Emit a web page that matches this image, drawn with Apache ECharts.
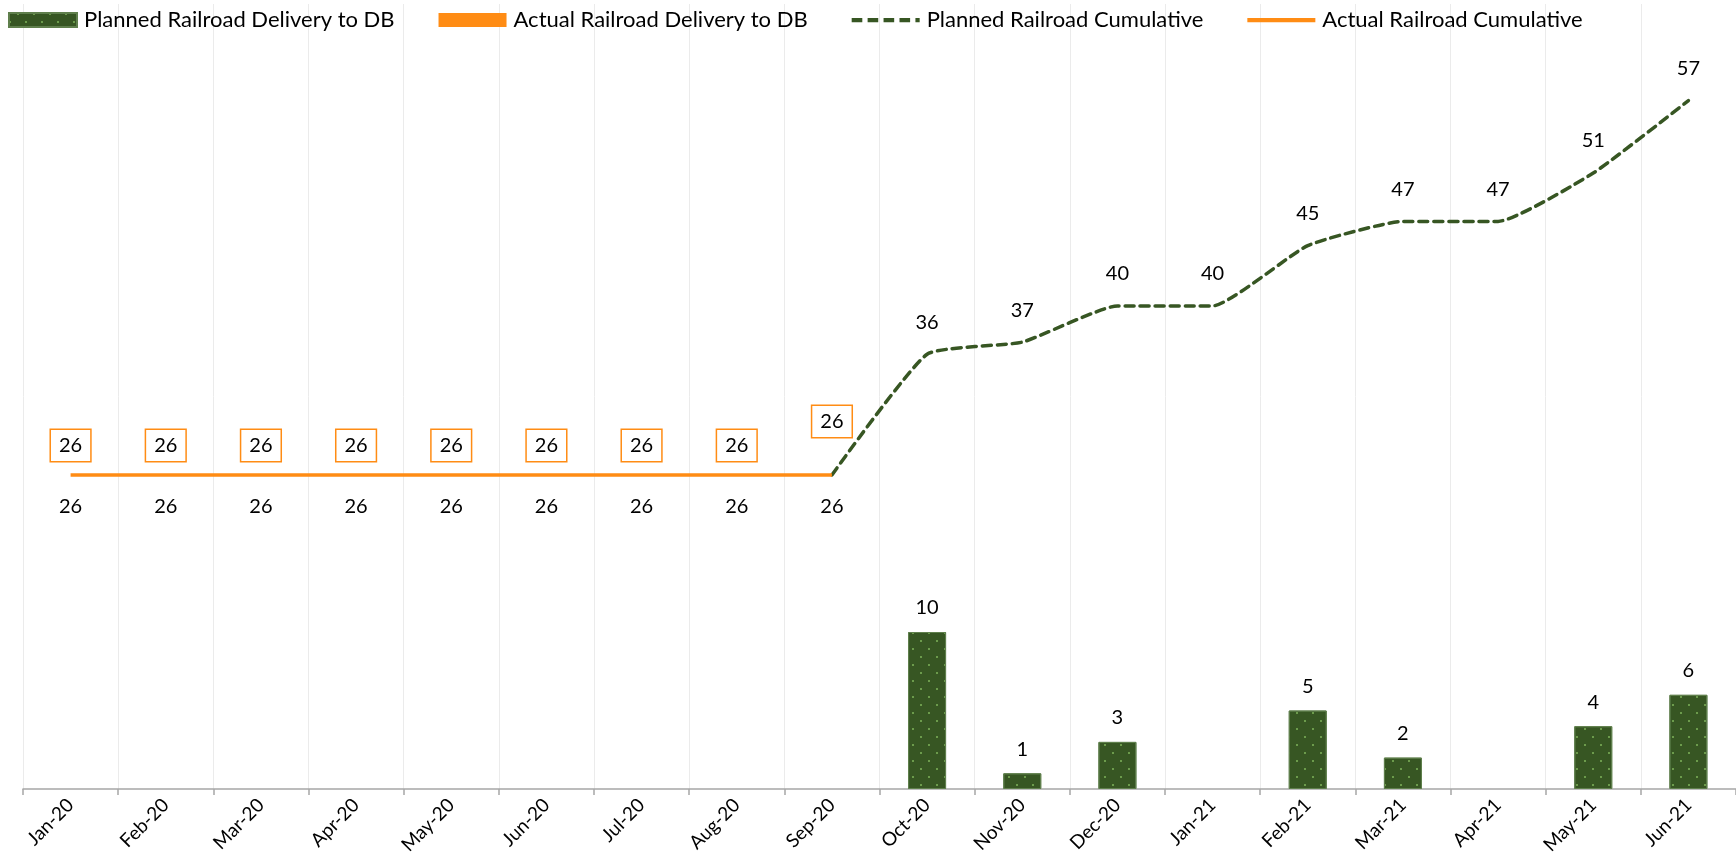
<!DOCTYPE html>
<html>
<head>
<meta charset="utf-8">
<script src="https://cdn.jsdelivr.net/npm/echarts@6/dist/echarts.min.js"></script>
<style>
  html, body { margin: 0; padding: 0; background: #fff; }
  #chart { width: 1736px; height: 865px; }
</style>
</head>
<body>
<div id="chart"></div>
<script>
// ---- data ----
const categories = ['Jan-20','Feb-20','Mar-20','Apr-20','May-20','Jun-20','Jul-20','Aug-20','Sep-20',
  'Oct-20','Nov-20','Dec-20','Jan-21','Feb-21','Mar-21','Apr-21','May-21','Jun-21'];
const plannedDelivery = [null,null,null,null,null,null,null,null,null,10,1,3,null,5,2,null,4,6];
const actualDelivery  = [null,null,null,null,null,null,null,null,null,null,null,null,null,null,null,null,null,null];
const plannedCumulative = [26,26,26,26,26,26,26,26,26,36,37,40,40,45,47,47,51,57];
const actualCumulative  = [26,26,26,26,26,26,26,26,26,null,null,null,null,null,null,null,null,null];
const seriesNames = ['Planned Railroad Delivery to DB','Actual Railroad Delivery to DB','Planned Railroad Cumulative','Actual Railroad Cumulative'];

// ---- styling ----
const GREEN = '#375623';
const ORANGE = '#FF8C14';
const FONT = 'Lato';
const firstPlannedLineIdx = 8; // planned cumulative line drawn from Sep-20

const chart = echarts.init(document.getElementById('chart'), null, { renderer: 'canvas' });

const barDecal = {
  symbol: 'rect',
  symbolSize: 1,
  color: '#6c9b4c',
  dashArrayX: [[2, 14], [0, 8, 2, 6]],
  dashArrayY: [2, 6],
  rotation: 0
};

const labelBase = { color: '#000', fontFamily: FONT, fontSize: 20 };

const option = {
  animation: false,
  backgroundColor: '#fff',
  textStyle: { fontFamily: FONT },
  legend: {
    left: 8,
    top: 9,
    padding: 0,
    itemWidth: 68,
    itemHeight: 14,
    itemGap: 44,
    textStyle: { fontFamily: FONT, fontSize: 22, color: '#000', padding: [0, 0, 0, 2] },
    data: [
      { name: seriesNames[0], icon: 'rect' },
      { name: seriesNames[1], icon: 'rect' },
      { name: seriesNames[2], icon: 'path://M0,0h10v4h-10z M15,0h10v4h-10z M30,0h10v4h-10z M45,0h10v4h-10z M60,0h4v4h-4z' },
      { name: seriesNames[3], icon: 'path://M0,0h64v4h-64z' }
    ]
  },
  grid: { left: 23, right: 0, top: 4, bottom: 76, containLabel: false },
  xAxis: {
    type: 'category',
    data: categories,
    boundaryGap: true,
    axisLine: { show: true, lineStyle: { color: '#a6a6a6', width: 1.5 } },
    axisTick: { show: true, length: 6, alignWithLabel: false, lineStyle: { color: '#a6a6a6', width: 1.5 } },
    axisLabel: { rotate: 45, fontFamily: FONT, fontSize: 19, color: '#000', margin: 13, interval: 0 },
    splitLine: { show: true, lineStyle: { color: '#ebebeb', width: 1 } }
  },
  yAxis: [
    { type: 'value', min: 0, max: 50, show: false, splitLine: { show: false } },
    { type: 'value', min: 0, max: 65, show: false, splitLine: { show: false } }
  ],
  series: [
    {
      name: seriesNames[0],
      type: 'bar',
      yAxisIndex: 0,
      data: plannedDelivery,
      barWidth: 38,
      barGap: '-100%',
      itemStyle: { color: GREEN, borderColor: '#5f7f4c', borderWidth: 1, decal: barDecal },
      label: Object.assign({ show: true, position: 'top', distance: 14 }, labelBase),
      z: 2
    },
    {
      name: seriesNames[1],
      type: 'bar',
      yAxisIndex: 0,
      data: actualDelivery,
      barWidth: 38,
      barGap: '-100%',
      itemStyle: { color: ORANGE },
      z: 2
    },
    {
      name: seriesNames[2],
      type: 'line',
      yAxisIndex: 1,
      data: plannedCumulative.map((v, i) => {
        if (i < firstPlannedLineIdx) return null;
        if (i === firstPlannedLineIdx) return { value: v, label: { show: false } };
        return v;
      }),
      smooth: 0.15,
      symbol: 'circle',
      symbolSize: 0.1,
      itemStyle: { color: GREEN },
      lineStyle: { color: GREEN, width: 3.5, type: [9, 6], cap: 'round' },
      label: Object.assign({ show: true, position: 'top', distance: 22 }, labelBase),
      z: 3
    },
    {
      name: seriesNames[3],
      type: 'line',
      yAxisIndex: 1,
      data: actualCumulative.map((v, i) => i === firstPlannedLineIdx ? { value: v, label: { distance: 38 } } : v),
      symbol: 'circle',
      symbolSize: 0.1,
      itemStyle: { color: ORANGE },
      lineStyle: { color: ORANGE, width: 3.5 },
      label: Object.assign({
        show: true, position: 'top', distance: 14,
        borderColor: ORANGE, borderWidth: 1.5, padding: [6, 8, 5, 8], backgroundColor: '#fff'
      }, labelBase),
      z: 4
    },
    {
      // labels of the planned cumulative values below the flat section
      name: 'plannedCumLabels',
      type: 'line',
      yAxisIndex: 1,
      data: plannedCumulative.map((v, i) => i <= firstPlannedLineIdx ? v : null),
      symbol: 'circle',
      symbolSize: 0.1,
      itemStyle: { color: 'rgba(0,0,0,0)' },
      lineStyle: { width: 0, opacity: 0 },
      label: Object.assign({ show: true, position: 'bottom', distance: 21 }, labelBase),
      silent: true,
      z: 1
    }
  ]
};

chart.setOption(option);
</script>
</body>
</html>
